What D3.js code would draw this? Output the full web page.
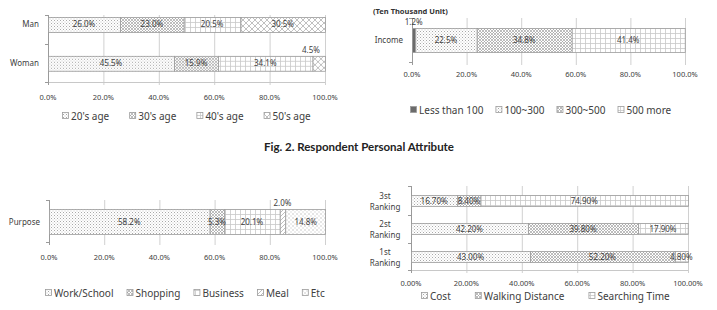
<!DOCTYPE html>
<html>
<head>
<meta charset="utf-8">
<script src="https://cdn.jsdelivr.net/npm/d3@7"></script>
<style>
  body { margin: 0; background: #fff; }
  svg { display: block; font-family: "Noto Sans", sans-serif; }
</style>
</head>
<body>
<svg id="fig" width="717" height="310"></svg>
<script>
// ---- data ----
var xTicks = [0, 20, 40, 60, 80, 100]

var ageCats = ['Man', 'Woman']
var ageSeries = ["20's age", "30's age", "40's age", "50's age"]
var ageValues = [
  [26.0, 23.0, 20.5, 30.5],
  [45.5, 15.9, 34.1, 4.5]
]

var incomeCats = ['Income']
var incomeSeries = ['Less than 100', '100~300', '300~500', '500 more']
var incomeValues = [[1.2, 22.5, 34.8, 41.4]]

var purposeCats = ['Purpose']
var purposeSeries = ['Work/School', 'Shopping', 'Business', 'Meal', 'Etc']
var purposeValues = [[58.2, 5.3, 20.1, 2.0, 14.8]]

var rankCats = ['3st|Ranking', '2st|Ranking', '1st|Ranking']
var rankSeries = ['Cost', 'Walking Distance', 'Searching Time']
var rankValues = [
  [16.70, 8.40, 74.90],
  [42.20, 39.80, 17.90],
  [43.00, 52.20, 4.80]
]

var caption = 'Fig. 2. Respondent Personal Attribute'

var svg = d3.select('#fig')
var defs = svg.append('defs')

// ---- fill patterns (Excel-like) ----
function pattern (id, w, h, draw) {
  var p = defs.append('pattern')
      .attr('id', id)
      .attr('patternUnits', 'userSpaceOnUse')
      .attr('width', w).attr('height', h)
  p.append('rect').attr('width', w).attr('height', h).attr('fill', '#fff')
  draw(p)
}
pattern('p-dots', 3, 3, p => {
  p.append('rect').attr('x', 0).attr('y', 0).attr('width', 1).attr('height', 1).attr('fill', '#a8a8a8')
  p.append('rect').attr('x', 1.5).attr('y', 1.5).attr('width', 1).attr('height', 1).attr('fill', '#c4c4c4')
})
pattern('p-dense', 3, 3, p => {
  p.append('path').attr('d', 'M0,0L3,3M3,0L0,3').attr('stroke', '#a0a0a0').attr('stroke-width', 0.7)
})
pattern('p-grid', 5, 5, p => {
  p.append('path').attr('d', 'M0,0.5H5M0.5,0V5').attr('stroke', '#c8c8c8').attr('stroke-width', 0.8)
})
pattern('p-diamond', 6, 6, p => {
  p.append('path').attr('d', 'M0,0L6,6M6,0L0,6').attr('stroke', '#b0b0b0').attr('stroke-width', 0.8)
})
pattern('p-hatch', 4, 4, p => {
  p.append('path').attr('d', 'M-1,5L5,-1M-1,1L1,-1M3,5L5,3').attr('stroke', '#a0a0a0').attr('stroke-width', 0.7)
})
pattern('p-sparse', 4, 4, p => {
  p.append('rect').attr('x', 0.5).attr('y', 0.5).attr('width', 1).attr('height', 1).attr('fill', '#999')
  p.append('rect').attr('x', 2.5).attr('y', 2.5).attr('width', 1).attr('height', 1).attr('fill', '#bbb')
})

var textColor = '#404040'

function drawPanel (cfg) {
  var g = svg.append('g')
  var x = d3.scaleLinear().domain([0, 100]).range([cfg.x0, cfg.x1]).clamp(true)
  var y = d3.scaleBand()
      .domain(cfg.cats)
      .range([cfg.yTop, cfg.yBottom])
      .paddingInner(cfg.padInner)
      .paddingOuter(cfg.padOuter)
      .align(cfg.align)
  var bw = y.bandwidth()

  // gridlines
  g.selectAll('line.grid')
      .data(xTicks.filter(t => t > 0))
      .enter().append('line')
      .attr('x1', d => x(d) + 0.5).attr('x2', d => x(d) + 0.5)
      .attr('y1', cfg.yTop).attr('y2', cfg.yBottom + 3)
      .attr('stroke', '#d0d0d0').attr('stroke-width', 1)

  if (cfg.bottomLine) {
    g.append('line')
        .attr('x1', cfg.x0).attr('x2', cfg.x1)
        .attr('y1', cfg.yBottom + 0.5).attr('y2', cfg.yBottom + 0.5)
        .attr('stroke', '#c8c8c8')
  }

  // left axis + ticks at category boundaries
  g.append('line')
      .attr('x1', cfg.x0 + 0.5).attr('x2', cfg.x0 + 0.5)
      .attr('y1', cfg.yTop).attr('y2', cfg.yBottom + 3)
      .attr('stroke', '#9a9a9a')
  var bounds = [cfg.yTop, cfg.yBottom]
  for (var i = 1; i < cfg.cats.length; i++) {
    bounds.push((y(cfg.cats[i - 1]) + bw + y(cfg.cats[i])) / 2)
  }
  g.selectAll('line.ltick').data(bounds).enter().append('line')
      .attr('x1', cfg.x0 - 3).attr('x2', cfg.x0)
      .attr('y1', d => Math.round(d) + 0.5).attr('y2', d => Math.round(d) + 0.5)
      .attr('stroke', '#9a9a9a')

  // tick labels
  g.selectAll('text.xt').data(xTicks).enter().append('text')
      .attr('x', d => x(d))
      .attr('y', cfg.yBottom + cfg.tickDy)
      .attr('text-anchor', 'middle')
      .attr('font-size', 7.5)
      .attr('fill', textColor)
      .text(d => d3.format(cfg.tickFmt)(d / 100))

  // category labels
  cfg.cats.forEach(c => {
    var parts = c.split('|')
    var cy = y(c) + bw / 2
    if (parts.length === 1) {
      g.append('text')
          .attr('x', cfg.x0 - 9).attr('y', cy + 3)
          .attr('text-anchor', 'end').attr('font-size', 8).attr('fill', textColor)
          .text(c)
    } else {
      var t = g.append('text')
          .attr('text-anchor', 'middle').attr('font-size', 8).attr('fill', textColor)
      parts.forEach((p, k) => {
        t.append('tspan').attr('x', cfg.x0 - 26).attr('y', cy - 2 + k * 11).text(p)
      })
    }
  })

  // stacked segments
  var rows = g.selectAll('g.row')
      .data(cfg.values)
      .enter().append('g')
      .attr('transform', (d, i) => `translate(0, ${y(cfg.cats[i])})`)

  rows.each(function (vals) {
    var row = d3.select(this)
    var acc = 0
    var segs = vals.map((v, k) => {
      var s = {v: v, k: k, a: acc, b: acc + v}
      acc += v
      return s
    })
    row.selectAll('rect').data(segs).enter().append('rect')
        .attr('x', d => x(d.a) + 0.5)
        .attr('y', 0.5)
        .attr('width', d => Math.max(0, x(d.b) - x(d.a)))
        .attr('height', bw)
        .attr('fill', d => cfg.fills[d.k])
        .attr('stroke', '#9c9c9c')
        .attr('stroke-width', 0.8)

    row.selectAll('text').data(segs).enter().append('text')
        .attr('text-anchor', 'middle')
        .attr('font-size', 8)
        .attr('fill', textColor)
        .text(d => d3.format(cfg.labelFmt)(d.v) + '%')
        .each(function (d) {
          var t = d3.select(this)
          var cx = x((d.a + d.b) / 2)
          if (d.v < cfg.outside) {
            var w = this.getComputedTextLength()
            cx = Math.min(cx, cfg.x1 - 5 - w / 2)
            t.attr('x', cx).attr('y', -3)
          } else {
            t.attr('x', cx).attr('y', bw / 2 + 3)
          }
        })
  })

  // legend
  var lx = cfg.legendX
  cfg.series.forEach((s, k) => {
    g.append('rect')
        .attr('x', lx + 0.5).attr('y', cfg.legendY - 7.5)
        .attr('width', 6).attr('height', 6)
        .attr('fill', cfg.fills[k])
        .attr('stroke', '#9c9c9c').attr('stroke-width', 0.8)
    var t = g.append('text')
        .attr('x', lx + 9).attr('y', cfg.legendY)
        .attr('font-size', 10)
        .attr('fill', textColor)
        .text(s)
    lx += 9 + t.node().getComputedTextLength() + cfg.legendGap
  })
}

drawPanel({
  cats: ageCats, series: ageSeries, values: ageValues,
  fills: ['url(#p-dots)', 'url(#p-dense)', 'url(#p-grid)', 'url(#p-diamond)'],
  x0: 48, x1: 325, yTop: 15, yBottom: 82,
  padInner: 0.615, padOuter: 0.17, align: 0.15,
  tickDy: 18, tickFmt: '.1%', labelFmt: '.1f', outside: 5,
  bottomLine: true, legendX: 62, legendY: 120, legendGap: 20
})

drawPanel({
  cats: incomeCats, series: incomeSeries, values: incomeValues,
  fills: ['#6b6b6b', 'url(#p-dots)', 'url(#p-dense)', 'url(#p-grid)'],
  x0: 412, x1: 685, yTop: 18, yBottom: 62,
  padInner: 0, padOuter: 0.4167, align: 0.5,
  tickDy: 15, tickFmt: '.1%', labelFmt: '.1f', outside: 5,
  bottomLine: false, legendX: 410, legendY: 114, legendGap: 12
})

drawPanel({
  cats: purposeCats, series: purposeSeries, values: purposeValues,
  fills: ['url(#p-dots)', 'url(#p-dense)', 'url(#p-grid)', 'url(#p-hatch)', 'url(#p-sparse)'],
  x0: 49, x1: 325, yTop: 200, yBottom: 242,
  padInner: 0, padOuter: 0.34, align: 0.53,
  tickDy: 18, tickFmt: '.1%', labelFmt: '.1f', outside: 5,
  bottomLine: false, legendX: 45, legendY: 297, legendGap: 13
})

drawPanel({
  cats: rankCats, series: rankSeries, values: rankValues,
  fills: ['url(#p-dots)', 'url(#p-dense)', 'url(#p-grid)'],
  x0: 411, x1: 688, yTop: 186, yBottom: 270,
  padInner: 0.607, padOuter: 0.3035, align: 0.53,
  tickDy: 16, tickFmt: '.2%', labelFmt: '.2f', outside: 0,
  bottomLine: true, legendX: 421, legendY: 300, legendGap: 24
})

// header note + caption
svg.append('text')
    .attr('x', 373).attr('y', 14)
    .attr('font-size', 7.5).attr('font-weight', 'bold')
    .attr('fill', '#333')
    .text('(Ten Thousand Unit)')

svg.append('text')
    .attr('x', 359).attr('y', 151)
    .attr('text-anchor', 'middle')
    .attr('font-family', 'Lato, sans-serif')
    .attr('font-size', 11.5).attr('font-weight', 'bold')
    .attr('fill', '#222')
    .text(caption)
</script>
</body>
</html>
